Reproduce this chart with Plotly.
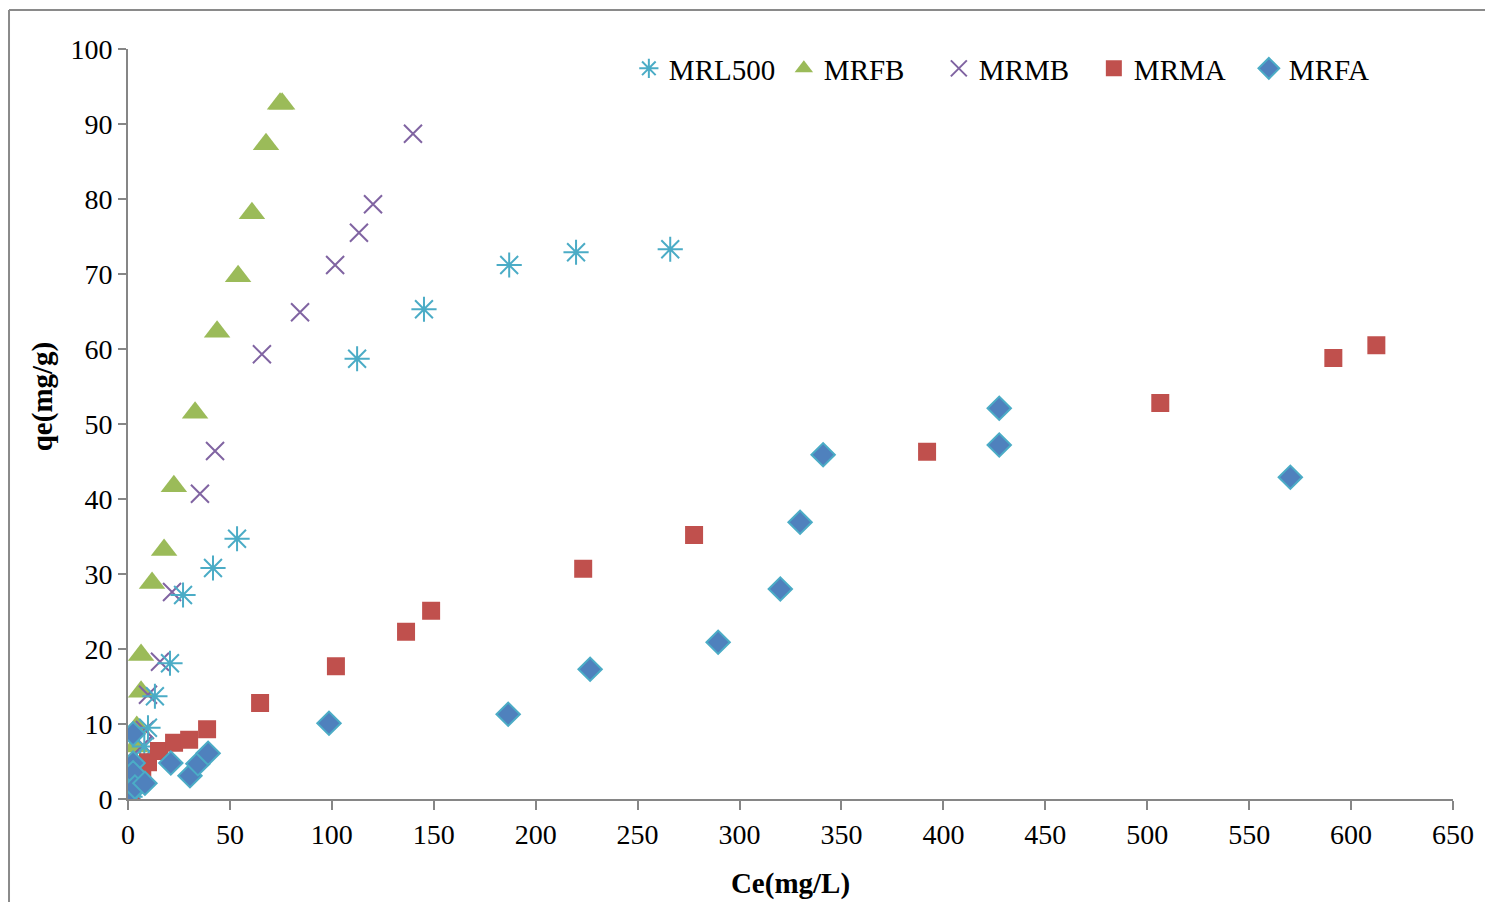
import plotly.graph_objects as go

# Equilibrium concentration Ce (mg/L) and uptake qe (mg/g) per adsorbent
mrl500_ce = [1.0, 2.0, 4.0, 6.0, 8.0, 9.8, 13.2, 20.6, 27.0, 41.7, 53.5, 112.4, 145.2, 187.0, 219.8, 266.0]
mrl500_qe = [0.3, 1.5, 3.0, 5.0, 7.0, 9.5, 13.7, 18.1, 27.2, 30.8, 34.7, 58.7, 65.3, 71.2, 72.9, 73.3]

mrfb_ce = [1.0, 1.5, 2.0, 3.0, 3.5, 4.3, 6.4, 6.4, 11.8, 17.7, 22.5, 32.9, 43.7, 54.0, 60.8, 67.7, 74.6, 75.6]
mrfb_qe = [0.3, 1.5, 3.0, 5.0, 7.0, 9.6, 14.3, 19.2, 28.8, 33.2, 41.7, 51.5, 62.3, 69.7, 78.1, 87.3, 92.7, 92.7]

mrmb_ce = [1.0, 2.0, 4.0, 6.0, 7.4, 8.3, 9.8, 15.7, 21.6, 35.3, 42.7, 65.7, 84.4, 101.6, 113.3, 120.2, 139.8]
mrmb_qe = [0.2, 1.0, 3.0, 5.0, 7.2, 9.2, 13.9, 18.3, 27.6, 40.7, 46.4, 59.3, 64.9, 71.2, 75.5, 79.3, 88.7]

mrma_ce = [1.0, 7.0, 9.8, 15.2, 22.6, 30.0, 38.8, 64.8, 102.0, 136.4, 148.7, 223.3, 277.7, 392.0, 506.4, 591.3, 612.4]
mrma_qe = [0.3, 4.0, 4.9, 6.4, 7.5, 7.9, 9.3, 12.8, 17.7, 22.3, 25.1, 30.7, 35.2, 46.3, 52.8, 58.8, 60.5]

mrfa_ce = [1.0, 2.5, 2.5, 2.5, 3.4, 8.3, 21.0, 30.4, 34.3, 39.3, 98.6, 186.5, 226.7, 289.5, 320.0, 329.7, 341.0, 427.4, 427.4, 570.2]
mrfa_qe = [0.8, 8.7, 4.8, 3.5, 1.6, 2.1, 4.8, 3.1, 4.7, 6.1, 10.1, 11.3, 17.3, 20.9, 28.0, 36.9, 45.9, 52.1, 47.2, 42.9]

x_ticks = list(range(0, 651, 50))
y_ticks = list(range(0, 101, 10))

SERIF = "Liberation Serif, Times New Roman, serif"
AXIS_GREY = "#868686"
TICK_FONT = dict(family=SERIF, size=28, color="black")
TITLE_FONT = dict(family=SERIF, size=29, color="black")

fig = go.Figure()

# Drawing order (later on top); legend order set via legendrank
fig.add_trace(go.Scatter(
    x=mrfb_ce, y=mrfb_qe, mode="markers", name="MRFB", legendrank=2,
    marker=dict(symbol="triangle-up", size=23, color="#9BBB59",
                line=dict(width=0))))
fig.add_trace(go.Scatter(
    x=mrmb_ce, y=mrmb_qe, mode="markers", name="MRMB", legendrank=3,
    marker=dict(symbol="x-thin", size=18, color="#8064A2",
                line=dict(width=2, color="#8064A2"))))
fig.add_trace(go.Scatter(
    x=mrl500_ce, y=mrl500_qe, mode="markers", name="MRL500", legendrank=1,
    marker=dict(symbol="asterisk", size=21, color="#4BACC6",
                line=dict(width=2, color="#4BACC6"))))
fig.add_trace(go.Scatter(
    x=mrma_ce, y=mrma_qe, mode="markers", name="MRMA", legendrank=4,
    marker=dict(symbol="square", size=18, color="#C0504D",
                line=dict(width=0))))
fig.add_trace(go.Scatter(
    x=mrfa_ce, y=mrfa_qe, mode="markers", name="MRFA", legendrank=5,
    marker=dict(symbol="diamond", size=18, color="#4F81BD",
                line=dict(width=2, color="#4BACC6"))))

fig.update_layout(
    width=1485, height=902,
    margin=dict(l=128, r=32, t=49, b=103),
    paper_bgcolor="white", plot_bgcolor="white",
    font=dict(family=SERIF, size=24, color="black"),
    showlegend=True,
    legend=dict(
        orientation="h", x=0.378, y=1.008, xanchor="left", yanchor="top",
        font=dict(family=SERIF, size=29, color="black"),
        bgcolor="rgba(0,0,0,0)", itemwidth=30, tracegroupgap=0,
        traceorder="normal", entrywidth=110, entrywidthmode="pixels",
    ),
    xaxis=dict(
        range=[0, 650], tickvals=x_ticks, ticktext=[str(v) for v in x_ticks],
        showgrid=False, zeroline=False, showline=True, linecolor=AXIS_GREY,
        linewidth=2, ticks="outside", ticklen=9, tickcolor=AXIS_GREY, tickwidth=2,
        tickfont=TICK_FONT, automargin=False,
        title=dict(text="<b>Ce(mg/L)</b>", font=TITLE_FONT, standoff=24),
    ),
    yaxis=dict(
        range=[0, 100], tickvals=y_ticks, ticktext=[str(v) for v in y_ticks],
        showgrid=False, zeroline=False, showline=True, linecolor=AXIS_GREY,
        linewidth=2, ticks="outside", ticklen=8, tickcolor=AXIS_GREY, tickwidth=2,
        tickfont=TICK_FONT, automargin=False,
    ),
    annotations=[
        dict(text="<b>qe(mg/g)</b>", xref="paper", yref="paper",
             x=-0.0649, y=0.537, xanchor="center", yanchor="middle",
             textangle=-90, showarrow=False, font=TITLE_FONT),
    ],
    shapes=[
        # outer chart frame (top and left edges)
        dict(type="line", xref="paper", yref="paper", x0=-0.0898, x1=1.05,
             y0=1.052, y1=1.052, line=dict(color="#8a8a8a", width=2)),
        dict(type="line", xref="paper", yref="paper", x0=-0.0898, x1=-0.0898,
             y0=1.052, y1=-0.2, line=dict(color="#8a8a8a", width=2)),
    ],
)

fig.write_html("out.html")
